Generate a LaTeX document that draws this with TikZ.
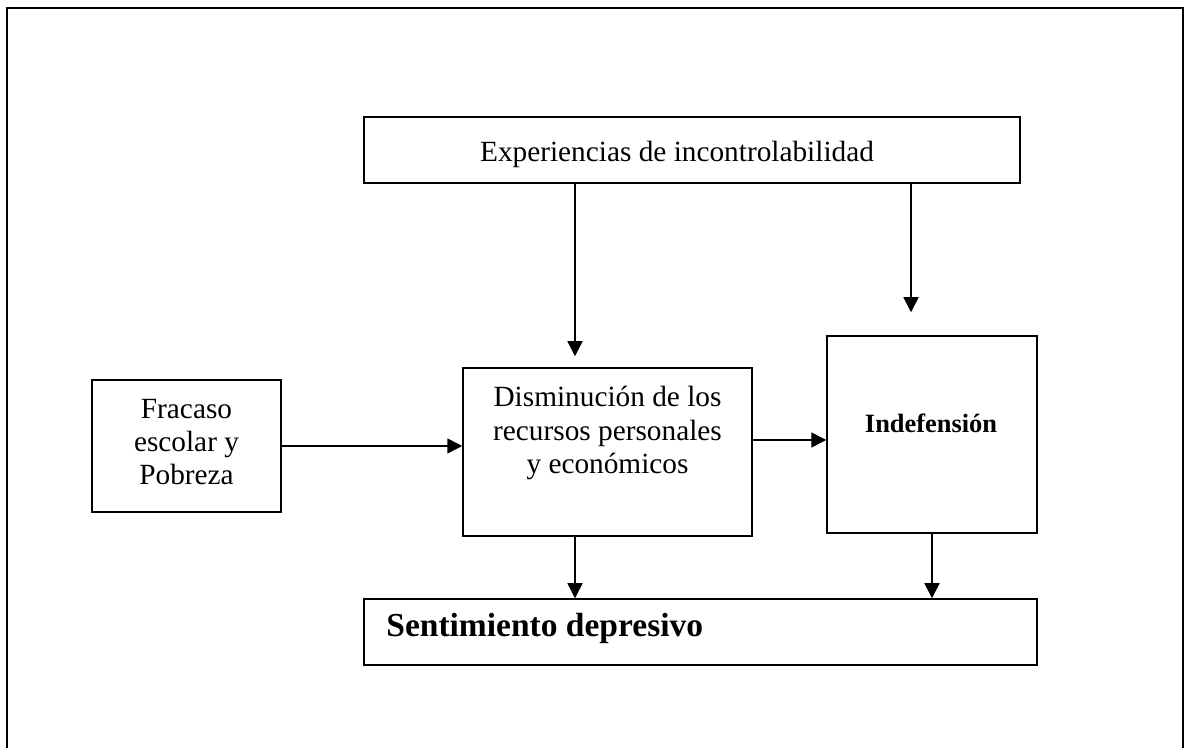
\documentclass[tikz,border=0pt]{standalone}
\usepackage{fontspec}
\setmainfont{Liberation Serif}
\usetikzlibrary{arrows.meta}

\begin{document}
\begin{tikzpicture}[x=0.5pt,y=-0.5pt,
  box/.style={draw,line width=0.75pt,inner sep=0pt},
  arr/.style={line width=0.75pt,-{Triangle[length=7.5pt,width=7.5pt]}},
  txt/.style={font=\fontsize{14.65}{16.6}\selectfont,align=center,inner sep=0pt}]

\useasboundingbox (0,0) rectangle (1184,748);
\draw[line width=1.1pt] (7,8) rectangle (1183,760);

% boxes
\node[box,minimum width=328pt,minimum height=33pt] (exp) at (692,150) {};
\node[box,minimum width=94.5pt,minimum height=66pt] (fra) at (186.5,446) {};
\node[box,minimum width=144.5pt,minimum height=84pt] (dis) at (607.5,452) {};
\node[box,minimum width=105pt,minimum height=98.5pt] (ind) at (932,434.5) {};
\node[box,minimum width=336.5pt,minimum height=33pt] (sen) at (700.5,632) {};

% texts
\node[txt,anchor=base] (expt) at (677,162) {Experiencias de incontrolabilidad};
\node[txt] (frat) at (186.5,442) {Fracaso\\escolar y\\Pobreza};
\node[txt] (dist) at (607.5,433) {Disminución de los\\recursos personales\\y económicos};
\node[txt,anchor=base,font=\fontsize{13.2}{15}\selectfont\bfseries] (indt) at (931,433) {Indefensión};
\node[txt,anchor=base west,font=\fontsize{16.75}{19}\selectfont\bfseries] (sent) at (386,637) {Sentimiento depresivo};

% arrows
\coordinate (c1) at (575,0);
\coordinate (c2) at (911,0);
\coordinate (r1) at (0,440);

\draw[arr,shorten >=5.5pt] (exp.south -| c1) -- (dis.north -| c1);
\draw[arr,shorten >=11.5pt] (exp.south -| c2) -- (ind.north -| c2);
\draw[arr] (fra.east) -- (fra.east -| dis.west);
\draw[arr] (dis.east |- r1) -- (ind.west |- r1);
\draw[arr] (dis.south -| c1) -- (sen.north -| c1);
\draw[arr] (ind.south) -- (ind.south |- sen.north);
\end{tikzpicture}
\end{document}
